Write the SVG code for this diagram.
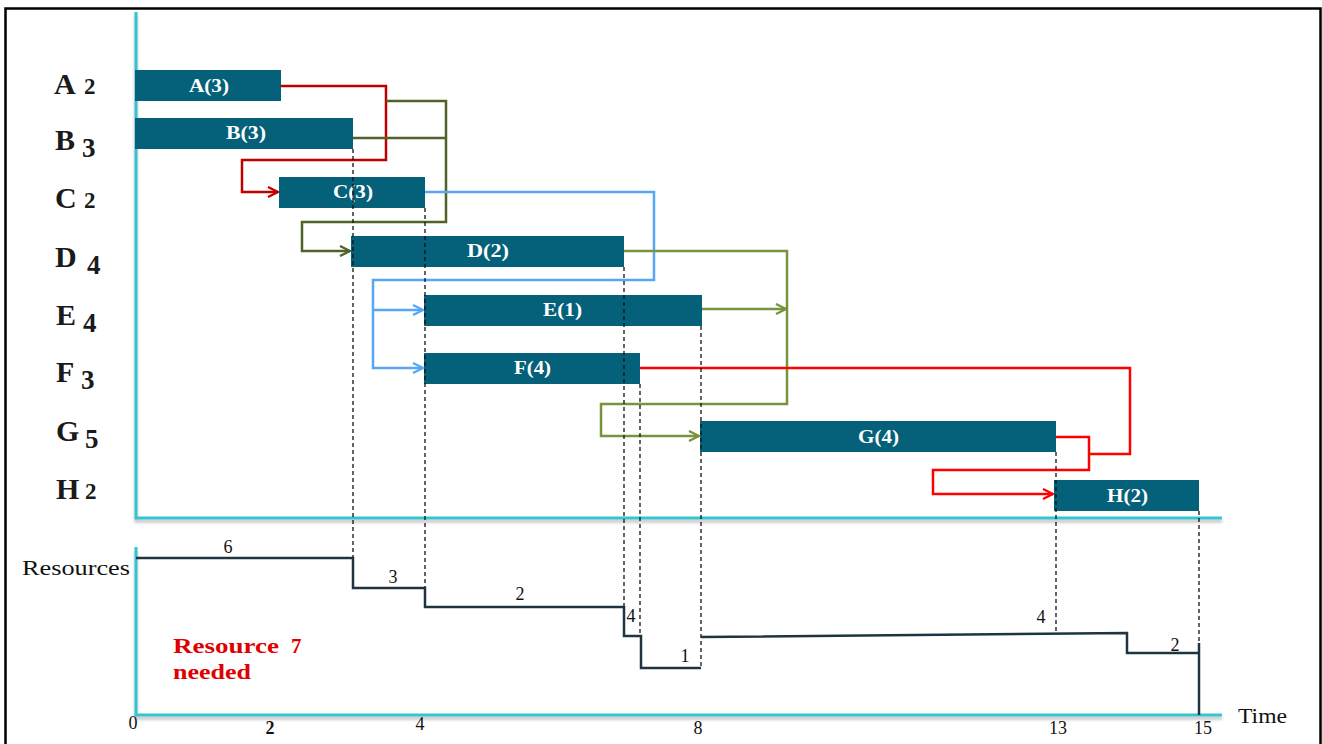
<svg xmlns="http://www.w3.org/2000/svg" width="1322" height="744" viewBox="0 0 1322 744">
  <style>
    text { font-family: "Liberation Serif", "Times New Roman", serif; }
    .bar { fill: #05617a; }
    .barlbl { font-weight: bold; font-size: 19px; fill: #ffffff; }
    .row { font-weight: bold; fill: #1a1a1a; }
    .axis { stroke: #30c6d0; stroke-width: 3; fill: none; }
    .dash { stroke: #111; stroke-width: 1.3; stroke-dasharray: 4 3; fill: none; }
    .conn { fill: none; stroke-width: 2.5; stroke-linejoin: miter; }
    .res { fill: none; stroke: #1c3540; stroke-width: 2.5; }
    .num { font-size: 18px; fill: #111; }
    .lbl { font-size: 21px; fill: #111; }
    .warn { font-weight: bold; font-size: 21px; fill: #e00000; }
  </style>
  <defs>
    <filter id="axShadow" x="-5%" y="-50%" width="110%" height="300%">
      <feDropShadow dx="0" dy="3" stdDeviation="1.5" flood-color="#888" flood-opacity="0.55"/>
    </filter>
    <marker id="arDarkRed" viewBox="0 0 12 12" refX="11" refY="6" markerWidth="12" markerHeight="12" markerUnits="userSpaceOnUse" orient="auto">
      <path d="M1,1 L11,6 L1,11" fill="none" stroke="#c00000" stroke-width="2.3"/>
    </marker>
    <marker id="arRed" viewBox="0 0 12 12" refX="11" refY="6" markerWidth="12" markerHeight="12" markerUnits="userSpaceOnUse" orient="auto">
      <path d="M1,1 L11,6 L1,11" fill="none" stroke="#ff0000" stroke-width="2.3"/>
    </marker>
    <marker id="arOliveDk" viewBox="0 0 12 12" refX="11" refY="6" markerWidth="12" markerHeight="12" markerUnits="userSpaceOnUse" orient="auto">
      <path d="M1,1 L11,6 L1,11" fill="none" stroke="#4f6228" stroke-width="2.3"/>
    </marker>
    <marker id="arOlive" viewBox="0 0 12 12" refX="11" refY="6" markerWidth="12" markerHeight="12" markerUnits="userSpaceOnUse" orient="auto">
      <path d="M1,1 L11,6 L1,11" fill="none" stroke="#77933c" stroke-width="2.3"/>
    </marker>
    <marker id="arBlue" viewBox="0 0 12 12" refX="11" refY="6" markerWidth="12" markerHeight="12" markerUnits="userSpaceOnUse" orient="auto">
      <path d="M1,1 L11,6 L1,11" fill="none" stroke="#55a8f5" stroke-width="2.3"/>
    </marker>
  </defs>

  <!-- page -->
  <rect x="0" y="0" width="1322" height="744" fill="#ffffff"/>
  <rect x="5.5" y="8.5" width="1315" height="760" fill="none" stroke="#000" stroke-width="2.5"/>

  <!-- axes -->
  <g id="axes" filter="url(#axShadow)">
    <path class="axis" d="M136,12 V518 H1222"/>
    <path class="axis" d="M136,547 V715 H1222"/>
  </g>

  <!-- activity row labels -->
  <g id="row-labels">
    <text class="row" font-size="30" x="54" y="94">A<tspan x="84" font-size="23">2</tspan></text>
    <text class="row" font-size="30" x="55" y="150">B<tspan x="82" font-size="27" dy="7">3</tspan></text>
    <text class="row" font-size="30" x="55" y="208">C<tspan x="84" font-size="23">2</tspan></text>
    <text class="row" font-size="30" x="55" y="267">D<tspan x="87" font-size="27" dy="7">4</tspan></text>
    <text class="row" font-size="30" x="56" y="325">E<tspan x="83" font-size="27" dy="7">4</tspan></text>
    <text class="row" font-size="30" x="56" y="382">F<tspan x="81" font-size="27" dy="7">3</tspan></text>
    <text class="row" font-size="30" x="56" y="441">G<tspan x="85" font-size="27" dy="7">5</tspan></text>
    <text class="row" font-size="30" x="56" y="499">H<tspan x="85" font-size="23">2</tspan></text>
  </g>

  <!-- activity bars -->
  <g id="A"><rect class="bar" x="135" y="70" width="146" height="31"/><text class="barlbl" x="189" y="92" textLength="40" lengthAdjust="spacingAndGlyphs">A(3)</text></g>
  <g id="B"><rect class="bar" x="135" y="118" width="218" height="31"/><text class="barlbl" x="226" y="139" textLength="40" lengthAdjust="spacingAndGlyphs">B(3)</text></g>
  <g id="C"><rect class="bar" x="279" y="177" width="146" height="31"/><text class="barlbl" x="333" y="198" textLength="40" lengthAdjust="spacingAndGlyphs">C(3)</text></g>
  <g id="D"><rect class="bar" x="351" y="236" width="273" height="31"/><text class="barlbl" x="467" y="257" textLength="42" lengthAdjust="spacingAndGlyphs">D(2)</text></g>
  <g id="E"><rect class="bar" x="424" y="295" width="278" height="31"/><text class="barlbl" x="543" y="316" textLength="39" lengthAdjust="spacingAndGlyphs">E(1)</text></g>
  <g id="F"><rect class="bar" x="424" y="353" width="216" height="31"/><text class="barlbl" x="514" y="374" textLength="37" lengthAdjust="spacingAndGlyphs">F(4)</text></g>
  <g id="G"><rect class="bar" x="700" y="421" width="356" height="31"/><text class="barlbl" x="858" y="443" textLength="41" lengthAdjust="spacingAndGlyphs">G(4)</text></g>
  <g id="H"><rect class="bar" x="1054" y="480" width="145" height="31"/><text class="barlbl" x="1107" y="502" textLength="41" lengthAdjust="spacingAndGlyphs">H(2)</text></g>

  <!-- precedence connectors -->
  <g id="connectors">
    <path class="conn" stroke="#c00000" d="M281,86 H386 V160 H242 V192 H278" marker-end="url(#arDarkRed)"/>
    <path class="conn" stroke="#4f6228" d="M386,101 H446 V222 H302 V251 H350" marker-end="url(#arOliveDk)"/>
    <path class="conn" stroke="#4f6228" d="M353,138 H446"/>
    <path class="conn" stroke="#55a8f5" d="M425,192 H654 V280 H373 V368 H423" marker-end="url(#arBlue)"/>
    <path class="conn" stroke="#55a8f5" d="M373,310 H423" marker-end="url(#arBlue)"/>
    <path class="conn" stroke="#77933c" d="M624,251 H787 V404 H601 V436 H699" marker-end="url(#arOlive)"/>
    <path class="conn" stroke="#77933c" d="M702,309 H786" marker-end="url(#arOlive)"/>
    <path class="conn" stroke="#ff0000" d="M640,368 H1130 V454 H1089"/>
    <path class="conn" stroke="#ff0000" d="M1056,437 H1089 V470 H933 V494 H1053" marker-end="url(#arRed)"/>
  </g>

  <!-- finish-time guides -->
  <g id="guides">
    <path class="dash" d="M353,149 V558"/>
    <path class="dash" d="M425,208 V588"/>
    <path class="dash" d="M624,267 V607"/>
    <path class="dash" d="M640,384 V636"/>
    <path class="dash" d="M701,326 V668"/>
    <path class="dash" d="M1056,452 V633"/>
    <path class="dash" d="M1199,511 V643"/>
  </g>

  <!-- resource profile -->
  <g id="resource-profile">
    <path class="res" d="M136,558 H353 V588 H425 V607 H624 V636 H641 V668 H701"/>
    <path class="res" d="M701,637 L1127,633 V653 H1199"/>
    <path class="res" d="M1199,643 V715"/>
    <text class="num" x="228" y="553" text-anchor="middle">6</text>
    <text class="num" x="393" y="583" text-anchor="middle">3</text>
    <text class="num" x="520" y="600" text-anchor="middle">2</text>
    <text class="num" x="631" y="622" text-anchor="middle">4</text>
    <text class="num" x="685" y="662" text-anchor="middle">1</text>
    <text class="num" x="1041" y="623" text-anchor="middle">4</text>
    <text class="num" x="1175" y="651" text-anchor="middle">2</text>
    <text class="lbl" x="22" y="575" textLength="108" lengthAdjust="spacingAndGlyphs">Resources</text>
    <text class="warn" x="173" y="653" textLength="106" lengthAdjust="spacingAndGlyphs">Resource</text>
    <text class="warn" x="291" y="653">7</text>
    <text class="warn" x="173" y="679" textLength="78" lengthAdjust="spacingAndGlyphs">needed</text>
  </g>

  <!-- time axis labels -->
  <g id="time-labels">
    <text class="num" x="133" y="729" text-anchor="middle">0</text>
    <text class="num" x="270" y="734" text-anchor="middle" font-weight="bold">2</text>
    <text class="num" x="420" y="730" text-anchor="middle">4</text>
    <text class="num" x="698" y="734" text-anchor="middle">8</text>
    <text class="num" x="1058" y="734" text-anchor="middle">13</text>
    <text class="num" x="1203" y="734" text-anchor="middle">15</text>
    <text class="lbl" x="1238" y="723" textLength="49" lengthAdjust="spacingAndGlyphs">Time</text>
  </g>
</svg>
